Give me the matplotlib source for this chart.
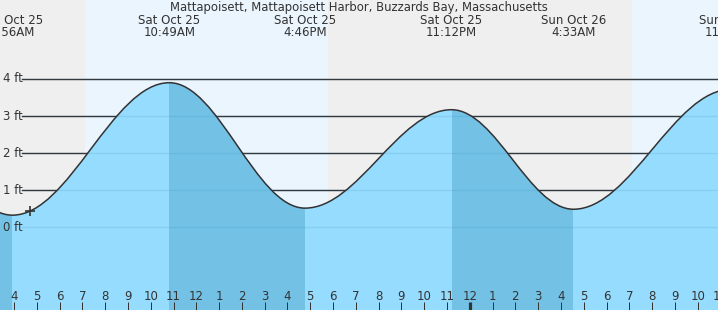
import matplotlib
matplotlib.use("Agg")
import matplotlib.pyplot as plt
from matplotlib.path import Path
from matplotlib.patches import PathPatch
import matplotlib.transforms as mtransforms

# ---------------- data ----------------
title = "Mattapoisett, Mattapoisett Harbor, Buzzards Bay, Massachusetts"
# hours since midnight, Sat Oct 25
extreme_hours = [-1.70, 3.933, 10.817, 16.767, 23.200, 28.550, 35.467]
extreme_heights = [3.15, 0.32, 3.90, 0.51, 3.17, 0.48, 3.72]
extreme_is_high = [True, False, True, False, True, False, True]
extreme_dates = ["Fri Oct 24", "Sat Oct 25", "Sat Oct 25", "Sat Oct 25",
                 "Sat Oct 25", "Sun Oct 26", "Sun Oct 26"]
extreme_times = ["10:18PM", "3:56AM", "10:49AM", "4:46PM",
                 "11:12PM", "4:33AM", "11:28AM"]
daylight_start = [7.117, 31.117]
daylight_end = [17.767, 41.0]
now_hour = 4.70
now_height = 0.44
hour_ticks = list(range(4, 36))
hour_labels = [str((h - 1) % 12 + 1) for h in hour_ticks]
midnight_hour = 24
height_ticks = [0, 1, 2, 3, 4]
height_labels = [f"{v} ft" for v in height_ticks]
x_start = 3.386
px_per_hour = 22.79
y_range = (-2.243, 6.135)

# ---------------- style ----------------
W, H, DPI = 718, 310, 100
EXTRA = 6  # axes extends a few pixels past the right edge (last tick label is cut)
NIGHT = "#efefef"
DAY = "#eaf5fe"
WATER = "#96dcff"
WATER_DARK = "#73c2e6"
INK = "#333333"

fig = plt.figure(figsize=(W / DPI, H / DPI), dpi=DPI)
ax = fig.add_axes([0, 0, (W + EXTRA) / W, 1])
ax.set_xlim(x_start, x_start + (W + EXTRA) / px_per_hour)
ax.set_ylim(*y_range)
ax.set_facecolor(NIGHT)
for s in ax.spines.values():
    s.set_visible(False)
AW = W + EXTRA

# daylight
for a0, b0 in zip(daylight_start, daylight_end):
    ax.axvspan(a0, b0, color=DAY, lw=0, zorder=0.5)

# grid lines (start a little right of the labels)
ytr = mtransforms.blended_transform_factory(ax.transAxes, ax.transData)
for v, lab in zip(height_ticks, height_labels):
    ax.axhline(v, xmin=22 / AW, xmax=1, color=INK, lw=1.0, zorder=1)
    ax.text(3 / AW, v, lab, transform=ytr, ha="left", va="center",
            fontsize=8.5, color=INK, zorder=5)

# tide curve: cubic segments with flat tangents at each extreme
a = 0.3634
verts = [(extreme_hours[0], extreme_heights[0])]
codes = [Path.MOVETO]
for i in range(1, len(extreme_hours)):
    t0, h0 = extreme_hours[i - 1], extreme_heights[i - 1]
    t1, h1 = extreme_hours[i], extreme_heights[i]
    dt = t1 - t0
    verts += [(t0 + a * dt, h0), (t1 - a * dt, h1), (t1, h1)]
    codes += [Path.CURVE4] * 3
curve = Path(verts, codes)

fill_verts = verts + [(extreme_hours[-1], y_range[0] - 1),
                      (extreme_hours[0], y_range[0] - 1), verts[0]]
fill_codes = codes + [Path.LINETO, Path.LINETO, Path.CLOSEPOLY]
water = PathPatch(Path(fill_verts, fill_codes), facecolor=WATER,
                  edgecolor="none", zorder=2)
ax.add_patch(water)

# falling tide (high -> next low) darker
for i in range(len(extreme_hours) - 1):
    if extreme_is_high[i]:
        span = ax.axvspan(extreme_hours[i], extreme_hours[i + 1],
                          color=WATER_DARK, lw=0, zorder=2.1)
        span.set_clip_path(water)

# faint grid lines through the water
for v in height_ticks:
    ax.axhline(v, xmin=22 / AW, xmax=1, color="#1a6a9a", lw=1.0,
               alpha=0.12, zorder=2.5)

ax.add_patch(PathPatch(curve, facecolor="none", edgecolor=INK, lw=1.1, zorder=3))

# current time marker
ax.plot([now_hour], [now_height], marker="+", ms=7, mew=1.2, color=INK, zorder=4)

# extreme labels
xtr = mtransforms.blended_transform_factory(ax.transData, ax.transAxes)
for t, d, tm in zip(extreme_hours, extreme_dates, extreme_times):
    if x_start - 1.5 <= t <= x_start + W / px_per_hour + 1.5:
        ax.text(t, 1 - 24 / H, d, transform=xtr, ha="center", va="baseline",
                fontsize=8.5, color=INK, clip_on=True, zorder=5)
        ax.text(t, 1 - 36.5 / H, tm, transform=xtr, ha="center", va="baseline",
                fontsize=8.5, color=INK, clip_on=True, zorder=5)

fig.text(0.5, 1 - 11 / H, title, ha="center", va="baseline",
         fontsize=8.4, color=INK, zorder=5)

# hour ticks
ax.set_xticks(hour_ticks, hour_labels)
ax.set_yticks([])
ax.tick_params(axis="x", direction="in", length=8 * 72 / DPI, width=0.72, color=INK,
               pad=-14 * 72 / DPI, labelsize=8.5, labelcolor=INK)
for lbl in ax.get_xticklabels():
    lbl.set_va("center")
for tk, h in zip(ax.xaxis.get_major_ticks(), hour_ticks):
    tk.tick1line.set_zorder(6)
    if h == midnight_hour:
        tk.tick1line.set_markeredgewidth(2.3)
ax.set_axisbelow(False)

fig.savefig("out.png", dpi=DPI)
